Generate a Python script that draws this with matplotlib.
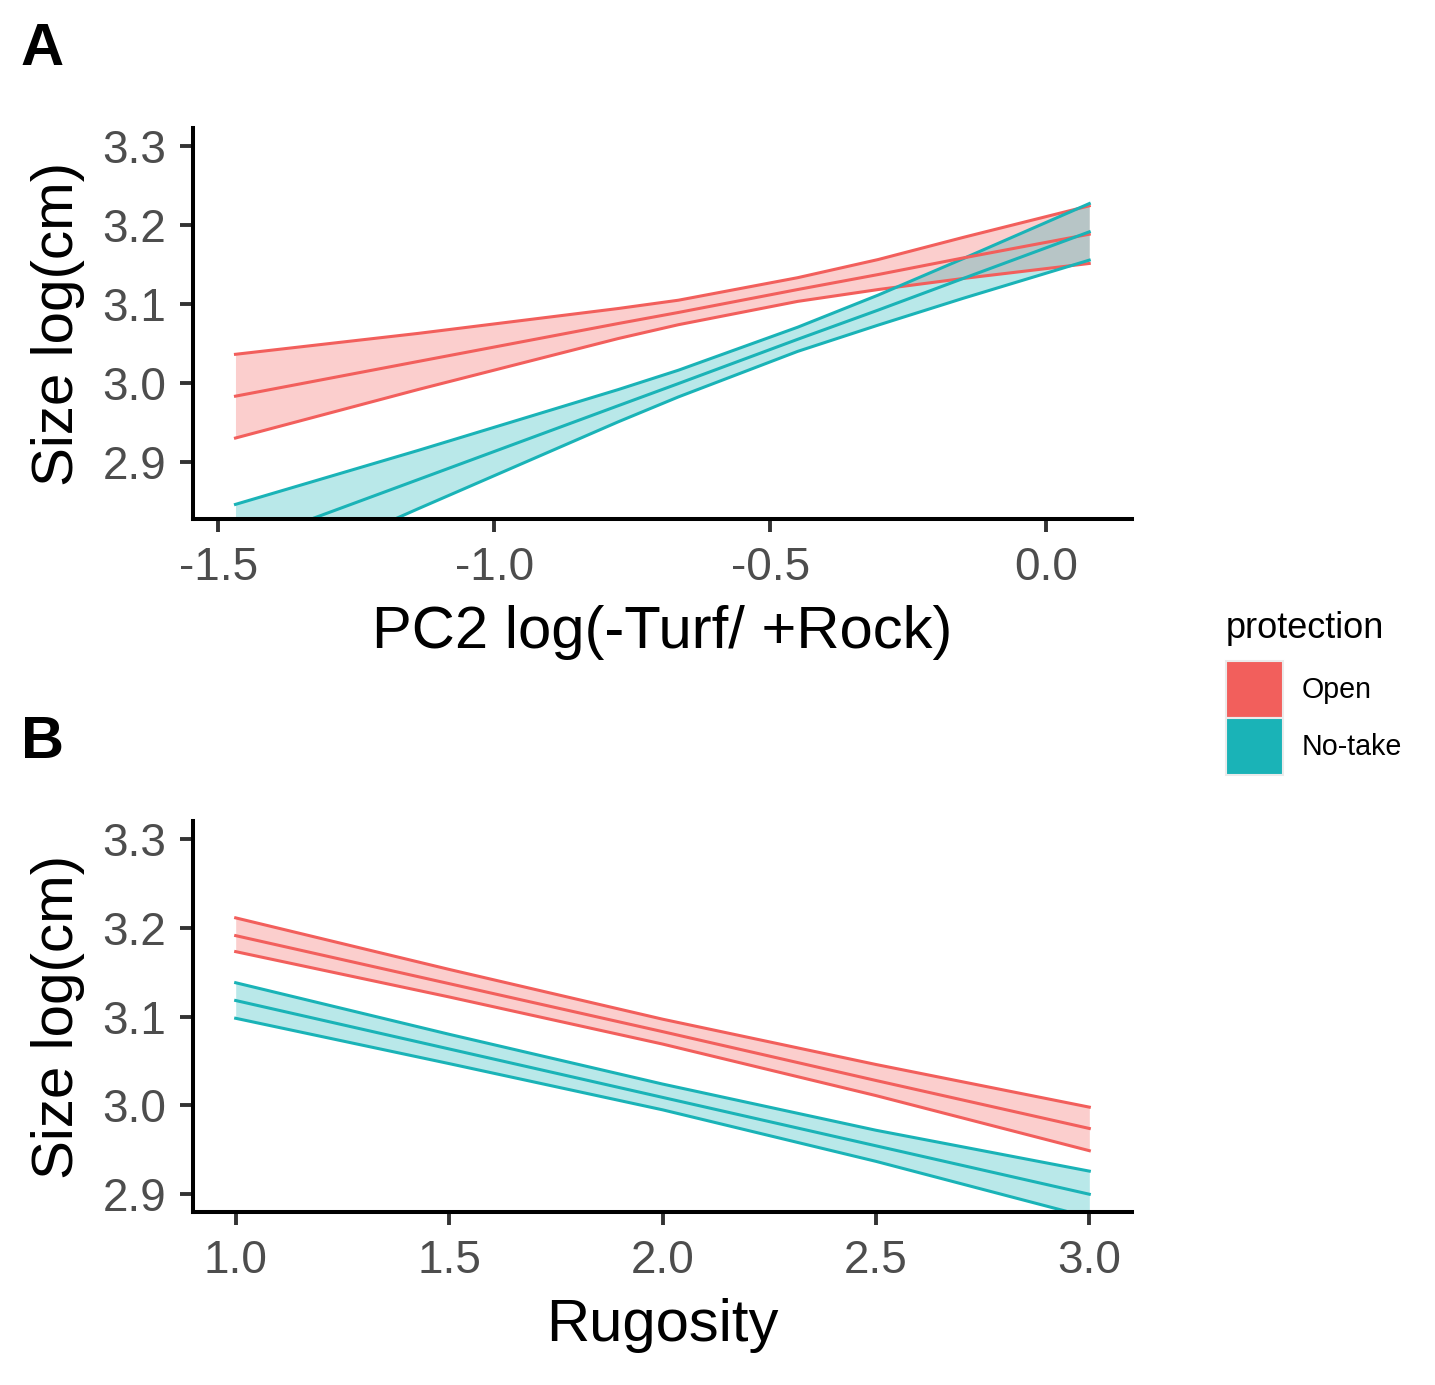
import matplotlib
matplotlib.use("Agg")
import matplotlib.pyplot as plt
from matplotlib.patches import Patch

plt.rcParams['font.family'] = ['Liberation Sans', 'DejaVu Sans']
plt.rcParams['axes.unicode_minus'] = False

# --- data ---
# panel A: PC2 log(-Turf/ +Rock)
pc2 = [-1.469, -1.1375, -0.775, -0.666, -0.45, -0.304, -0.15, 0.0785]
open_fit_a = [2.983, 3.027, 3.075, 3.089, 3.118, 3.137, 3.158, 3.188]
open_hi_a = [3.036, 3.0625, 3.094, 3.1045, 3.133, 3.156, 3.184, 3.224]
open_lo_a = [2.930, 2.9915, 3.056, 3.0735, 3.103, 3.118, 3.132, 3.151]
nt_fit_a = [2.792, 2.8775, 2.971, 2.999, 3.055, 3.092, 3.132, 3.191]
nt_hi_a = [2.846, 2.9144, 2.9914, 3.0159, 3.0703, 3.111, 3.1571, 3.2268]
nt_lo_a = [2.738, 2.8406, 2.9506, 2.9821, 3.0397, 3.073, 3.1069, 3.1552]

# panel B: Rugosity
rugosity = [1.0, 1.5, 2.0, 2.5, 3.0]
open_fit_b = [3.191, 3.137, 3.083, 3.028, 2.974]
open_hi_b = [3.211, 3.153, 3.097, 3.046, 2.998]
open_lo_b = [3.173, 3.122, 3.069, 3.011, 2.949]
nt_fit_b = [3.118, 3.0635, 3.009, 2.9545, 2.900]
nt_hi_b = [3.138, 3.080, 3.024, 2.972, 2.926]
nt_lo_b = [3.098, 3.047, 2.995, 2.937, 2.874]

groups = ['Open', 'No-take']
colors = ['#F25F5C', '#1AB3B7']

W, H = 1435, 1385
fig = plt.figure(figsize=(W / 100, H / 100), dpi=100)


def style_axes(ax):
    for s in ['top', 'right']:
        ax.spines[s].set_visible(False)
    for s in ['left', 'bottom']:
        ax.spines[s].set_linewidth(2.9)
        ax.spines[s].set_color('black')
        ax.spines[s].set_capstyle('projecting')
    ax.tick_params(direction='out', length=9.5, width=2.8, color='#333333',
                   labelsize=33, labelcolor='#4D4D4D', pad=10)


def draw_panel(ax, x, fits, his, los):
    # ribbons with outlines first, fitted lines on top
    for fit, hi, lo, c in zip(fits, his, los, colors):
        ax.fill_between(x, lo, hi, color=c, alpha=0.3, linewidth=0)
        ax.plot(x, hi, color=c, lw=2.2)
        ax.plot(x, lo, color=c, lw=2.2)
    for fit, c in zip(fits, colors):
        ax.plot(x, fit, color=c, lw=2.2)


ax_a = fig.add_axes([193 / W, 1 - 519 / H, (1132 - 193) / W, (519 - 128) / H])
draw_panel(ax_a, pc2, [open_fit_a, nt_fit_a], [open_hi_a, nt_hi_a], [open_lo_a, nt_lo_a])
ax_a.set_xlim(-1.546, 0.156)
ax_a.set_ylim(2.8275, 3.3225)
ax_a.set_xticks([-1.5, -1.0, -0.5, 0.0])
ax_a.set_xticklabels(['-1.5', '-1.0', '-0.5', '0.0'])
ax_a.set_yticks([2.9, 3.0, 3.1, 3.2, 3.3])
ax_a.set_yticklabels(['2.9', '3.0', '3.1', '3.2', '3.3'])
style_axes(ax_a)
ax_a.set_xlabel('PC2 log(-Turf/ +Rock)', fontsize=43, labelpad=11)
ax_a.set_ylabel('Size log(cm)', fontsize=42, labelpad=12)

ax_b = fig.add_axes([193 / W, 1 - 1212 / H, (1132 - 193) / W, (1212 - 821) / H])
draw_panel(ax_b, rugosity, [open_fit_b, nt_fit_b], [open_hi_b, nt_hi_b], [open_lo_b, nt_lo_b])
ax_b.set_xlim(0.9, 3.1)
ax_b.set_ylim(2.88, 3.32)
ax_b.set_xticks([1.0, 1.5, 2.0, 2.5, 3.0])
ax_b.set_xticklabels(['1.0', '1.5', '2.0', '2.5', '3.0'])
ax_b.set_yticks([2.9, 3.0, 3.1, 3.2, 3.3])
ax_b.set_yticklabels(['2.9', '3.0', '3.1', '3.2', '3.3'])
style_axes(ax_b)
ax_b.set_xlabel('Rugosity', fontsize=43, labelpad=11)
ax_b.set_ylabel('Size log(cm)', fontsize=42, labelpad=12)

# panel tags
fig.text(21 / W, 1 - 65 / H, 'A', fontsize=43, fontweight='bold', va='baseline')
fig.text(21 / W, 1 - 758 / H, 'B', fontsize=43, fontweight='bold', va='baseline')

# legend
fig.text(1226 / W, 1 - 638 / H, 'protection', fontsize=26, va='baseline')
handles = [Patch(facecolor=c, edgecolor='#EBEBEB', linewidth=1.5, label=g)
           for g, c in zip(groups, colors)]
fig.legend(handles=handles, loc='upper left', bbox_to_anchor=(1226 / W, 1 - 661 / H),
           frameon=False, fontsize=20.6, handlelength=2.0, handleheight=2.69,
           labelspacing=0.0, handletextpad=0.65, borderpad=0, borderaxespad=0)

fig.savefig('out.png', dpi=100)
